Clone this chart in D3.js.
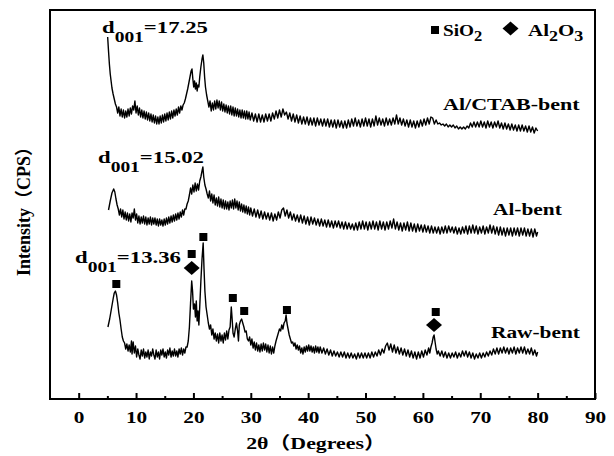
<!DOCTYPE html>
<html>
<head>
<meta charset="utf-8">
<script src="https://cdn.jsdelivr.net/npm/d3@7"></script>
<style>
  body { margin: 0; background: #fff; }
  svg text { font-family: "Liberation Serif", "Times New Roman", "Noto Sans CJK SC", serif; font-weight: bold; fill: #000; }
</style>
</head>
<body>
<div id="chart"></div>
<script>
// [2theta, intensity], curves already stacked
const rawBent = [
  [5.1,72],[5.4,80],[5.7,90],[6.0,100],[6.2,106],[6.4,108],[6.6,104],[6.8,96],[7.0,86],[7.2,79],[7.4,70],[7.6,62],[7.8,58],[8.0,56],[8.2,50],[8.4,55],[8.6,48],[8.8,54],[9.0,47],[9.2,58],[9.3,45],[9.5,57],[9.7,46],[9.9,53],
  [10.1,42],[10.3,50],[10.5,44],[10.7,40],[10.9,49],[11.1,43],[11.3,50],[11.5,41],[11.7,47],[11.9,42],[12.1,49],[12.3,40],[12.5,47],[12.7,43],[12.9,50],[13.1,44],[13.3,40],[13.5,49],[13.7,42],[13.9,47],[14.1,40],[14.3,49],[14.5,44],[14.7,50],[14.9,42],
  [15.1,47],[15.3,41],[15.5,49],[15.7,44],[15.9,51],[16.1,42],[16.3,48],[16.5,43],[16.7,50],[16.9,43],[17.1,48],[17.3,42],[17.5,50],[17.7,45],[17.9,51],[18.1,44],[18.3,50],[18.5,46],[18.7,52],[18.9,52],[19.1,58],[19.3,72],[19.5,96],[19.7,118],[19.85,108],
  [20.0,90],[20.2,95],[20.35,82],[20.5,98],[20.65,78],[20.8,88],[20.95,74],[21.1,92],[21.3,118],[21.5,140],[21.7,156],[21.85,130],[22.0,108],[22.2,92],[22.4,84],[22.6,76],[22.8,70],[23.0,74],[23.2,64],[23.4,70],[23.6,60],[23.8,66],[24.0,58],[24.2,65],[24.4,56],[24.6,66],[24.8,58],
  [25.0,64],[25.2,56],[25.4,66],[25.6,59],[25.8,68],[26.0,60],[26.2,69],[26.4,72],[26.6,92],[26.75,80],[26.9,66],[27.1,62],[27.3,70],[27.5,76],[27.7,68],[27.85,58],[28.0,74],[28.2,78],[28.4,80],[28.6,76],[28.8,72],[29.0,67],[29.2,68],[29.4,60],[29.6,58],[29.8,62],
  [30.0,54],[30.2,60],[30.4,51],[30.6,57],[30.8,49],[31.0,56],[31.2,48],[31.4,54],[31.6,47],[31.8,55],[32.0,48],[32.2,56],[32.4,49],[32.6,55],[32.8,47],[33.0,54],[33.2,46],[33.4,53],[33.6,45],[33.8,52],[34.0,46],[34.2,53],[34.4,58],[34.6,62],[34.8,66],
  [35.0,70],[35.2,68],[35.4,74],[35.6,70],[35.8,76],[36.0,78],[36.15,84],[36.3,76],[36.5,70],[36.7,64],[36.9,60],[37.1,56],[37.3,57],[37.5,53],[37.7,56],[37.9,50],[38.1,54],[38.3,49],[38.5,53],[38.7,46],[38.9,51],[39.1,45],[39.3,52],[39.5,47],[39.7,53],[39.9,48],
  [40.1,54],[40.3,48],[40.5,53],[40.7,47],[40.9,52],[41.1,46],[41.3,53],[41.5,47],[41.7,52],[41.9,46],[42.1,52],[42.4,46],[42.7,51],[43.0,45],[43.3,50],[43.6,44],[43.9,49],[44.2,43],[44.5,48],[44.8,43],
  [45.1,47],[45.4,42],[45.7,47],[46.0,42],[46.3,47],[46.6,41],[46.9,46],[47.2,41],[47.5,46],[47.8,41],[48.1,45],[48.4,40],[48.7,46],[49.0,41],[49.3,46],[49.6,41],[49.9,46],
  [50.2,41],[50.5,46],[50.8,41],[51.1,47],[51.4,42],[51.7,47],[52.0,43],[52.3,49],[52.6,44],[52.9,50],[53.2,46],[53.5,53],[53.8,56],[54.1,49],[54.4,55],[54.7,47],
  [55.0,54],[55.3,46],[55.6,52],[55.9,45],[56.2,51],[56.5,44],[56.8,50],[57.1,43],[57.4,49],[57.7,42],[58.0,48],[58.3,41],[58.6,47],[58.9,40],[59.2,47],[59.5,41],[59.8,48],
  [60.1,42],[60.4,49],[60.7,44],[61.0,51],[61.2,46],[61.4,52],[61.6,56],[61.8,62],[61.95,64],[62.1,58],[62.3,50],[62.5,45],[62.7,48],[63.0,43],[63.3,48],[63.6,42],[63.9,47],[64.2,41],[64.5,46],[64.8,41],
  [65.1,46],[65.4,42],[65.7,47],[66.0,41],[66.3,46],[66.6,42],[66.9,48],[67.2,43],[67.5,48],[67.8,42],[68.1,47],[68.4,41],[68.7,46],[69.0,40],[69.3,45],[69.6,41],[69.9,46],
  [70.2,41],[70.5,46],[70.8,42],[71.1,47],[71.4,43],[71.7,48],[72.0,44],[72.3,50],[72.6,45],[72.9,51],[73.2,45],[73.5,51],[73.8,46],[74.1,52],[74.4,46],[74.7,51],
  [75.0,45],[75.3,51],[75.6,46],[75.9,52],[76.2,45],[76.5,51],[76.8,46],[77.1,52],[77.4,46],[77.7,52],[78.0,45],[78.3,50],[78.6,45],[78.9,51],[79.2,44],[79.5,49],[79.8,43],[80.0,47]
];

const alBent = [
  [5.2,189],[5.5,198],[5.8,206],[6.1,210],[6.3,207],[6.5,200],[6.7,194],[6.9,190],[7.1,184],[7.3,190],[7.5,182],[7.7,189],[7.9,180],[8.1,187],[8.3,179],[8.5,186],[8.7,178],[8.9,185],[9.1,177],[9.3,186],[9.5,181],[9.7,190],[9.9,179],
  [10.1,185],[10.3,176],[10.5,183],[10.7,175],[10.9,182],[11.1,176],[11.3,183],[11.5,175],[11.7,182],[11.9,174],[12.1,181],[12.3,175],[12.5,182],[12.7,174],[12.9,181],[13.1,175],[13.3,181],[13.5,174],[13.7,180],[13.9,173],[14.1,180],[14.3,174],[14.5,179],[14.7,173],[14.9,180],
  [15.1,174],[15.3,181],[15.5,175],[15.7,182],[15.9,176],[16.1,183],[16.3,177],[16.5,184],[16.7,178],[16.9,185],[17.1,179],[17.3,186],[17.5,180],[17.7,187],[17.9,182],[18.1,189],[18.3,184],[18.5,190],[18.7,190],[18.9,195],[19.1,198],[19.3,204],[19.5,211],[19.7,205],[19.9,214],
  [20.1,207],[20.3,216],[20.5,208],[20.7,215],[20.9,209],[21.1,218],[21.3,222],[21.5,228],[21.65,232],[21.8,222],[22.0,214],[22.2,210],[22.4,205],[22.6,201],[22.8,208],[23.0,198],[23.2,205],[23.4,196],[23.6,204],[23.8,194],[24.0,201],[24.2,193],[24.4,202],[24.6,192],[24.8,200],
  [25.0,191],[25.2,199],[25.4,190],[25.6,198],[25.8,190],[26.0,197],[26.2,189],[26.4,198],[26.6,191],[26.8,199],[27.0,190],[27.2,200],[27.4,191],[27.6,198],[27.8,189],[28.0,197],[28.2,188],[28.4,195],[28.6,187],[28.8,194],[29.0,186],[29.2,193],[29.4,185],[29.6,192],[29.8,184],
  [30.0,191],[30.3,183],[30.6,190],[30.9,182],[31.2,189],[31.5,181],[31.8,188],[32.1,180],[32.4,187],[32.7,180],[33.0,186],[33.3,179],[33.6,186],[33.9,178],[34.2,185],[34.5,179],[34.8,187],
  [35.1,181],[35.4,189],[35.7,191],[36.0,183],[36.3,189],[36.6,181],[36.9,187],[37.2,179],[37.5,185],[37.8,178],[38.1,184],[38.4,177],[38.7,184],[39.0,176],[39.3,183],[39.6,175],[39.9,182],
  [40.2,174],[40.5,182],[40.8,175],[41.1,181],[41.4,174],[41.7,180],[42.0,173],[42.3,180],[42.6,173],[42.9,179],[43.2,172],[43.5,179],[43.8,172],[44.1,178],[44.4,171],[44.7,178],
  [45.0,172],[45.3,178],[45.6,171],[45.9,177],[46.2,170],[46.5,177],[46.8,170],[47.1,176],[47.4,170],[47.7,175],[48.0,169],[48.3,176],[48.6,169],[48.9,177],[49.2,170],[49.5,178],[49.8,170],
  [50.1,177],[50.4,169],[50.7,177],[51.0,170],[51.3,178],[51.6,170],[51.9,177],[52.2,169],[52.5,178],[52.8,170],[53.1,177],[53.4,169],[53.7,177],[54.0,170],[54.3,178],[54.6,171],[54.9,180],
  [55.2,170],[55.5,177],[55.8,169],[56.1,176],[56.4,168],[56.7,176],[57.0,169],[57.3,177],[57.6,168],[57.9,176],[58.2,168],[58.5,175],[58.8,167],[59.1,175],[59.4,168],[59.7,174],
  [60.0,167],[60.3,174],[60.6,167],[60.9,173],[61.2,166],[61.5,173],[61.8,166],[62.1,172],[62.4,166],[62.7,172],[63.0,165],[63.3,172],[63.6,166],[63.9,173],[64.2,166],[64.5,173],[64.8,167],
  [65.1,172],[65.4,166],[65.7,172],[66.0,165],[66.3,171],[66.6,165],[66.9,172],[67.2,166],[67.5,173],[67.8,165],[68.1,173],[68.4,166],[68.7,174],[69.0,166],[69.3,173],[69.6,165],[69.9,172],
  [70.2,166],[70.5,173],[70.8,165],[71.1,172],[71.4,166],[71.7,174],[72.0,166],[72.3,173],[72.6,165],[72.9,172],[73.2,164],[73.5,172],[73.8,164],[74.1,171],[74.4,163],[74.7,171],
  [75.0,164],[75.3,171],[75.6,163],[75.9,171],[76.2,164],[76.5,171],[76.8,163],[77.1,171],[77.4,164],[77.7,171],[78.0,163],[78.3,170],[78.6,163],[78.9,170],[79.2,162],[79.5,170],[79.8,163],[80.0,167]
];

const alCtabBent = [
  [5.05,362],[5.2,348],[5.35,335],[5.5,325],[5.65,318],[5.8,311],[6.0,305],[6.2,300],[6.4,295],[6.6,292],[6.8,286],[7.0,292],[7.2,283],[7.4,290],[7.6,282],[7.8,289],[8.0,281],[8.2,288],[8.4,282],[8.6,290],[8.8,283],[9.0,291],[9.2,285],[9.4,293],[9.6,289],[9.8,298],
  [10.0,286],[10.2,293],[10.4,284],[10.6,291],[10.8,282],[11.0,289],[11.2,281],[11.4,288],[11.6,280],[11.8,287],[12.0,279],[12.2,286],[12.4,278],[12.6,285],[12.8,277],[13.0,284],[13.2,276],[13.4,283],[13.6,275],[13.8,282],[14.0,275],[14.2,283],[14.4,276],[14.6,284],[14.8,277],
  [15.0,285],[15.2,278],[15.4,286],[15.6,279],[15.8,287],[16.0,280],[16.2,288],[16.4,281],[16.6,289],[16.8,283],[17.0,290],[17.2,284],[17.4,292],[17.6,286],[17.8,293],[18.0,289],[18.2,294],[18.4,296],[18.6,300],[18.8,305],[19.0,310],[19.2,316],[19.4,322],[19.6,328],[19.75,330],[19.9,320],
  [20.05,312],[20.2,318],[20.35,310],[20.5,316],[20.65,308],[20.8,314],[20.95,312],[21.1,322],[21.3,332],[21.5,340],[21.65,344],[21.8,336],[21.95,322],[22.1,312],[22.3,304],[22.5,298],[22.7,292],[22.9,298],[23.1,288],[23.3,296],[23.5,289],[23.7,298],[23.9,290],[24.1,299],[24.3,291],[24.5,298],[24.7,289],[24.9,297],
  [25.1,288],[25.3,295],[25.5,287],[25.7,294],[25.9,286],[26.1,293],[26.3,285],[26.5,293],[26.7,284],[26.9,292],[27.1,283],[27.3,291],[27.5,283],[27.7,290],[27.9,282],[28.1,289],[28.3,281],[28.5,289],[28.7,281],[28.9,288],[29.1,280],[29.3,288],[29.5,280],[29.7,287],[29.9,279],
  [30.2,286],[30.5,278],[30.8,285],[31.1,277],[31.4,285],[31.7,277],[32.0,284],[32.3,277],[32.6,285],[32.9,278],[33.2,285],[33.5,278],[33.8,286],[34.1,280],[34.4,288],[34.7,281],
  [35.0,289],[35.3,282],[35.6,290],[35.9,284],[36.2,287],[36.5,280],[36.8,286],[37.1,278],[37.4,285],[37.7,277],[38.0,284],[38.3,276],[38.6,283],[38.9,275],[39.2,282],[39.5,275],[39.8,282],
  [40.1,274],[40.4,281],[40.7,274],[41.0,281],[41.3,273],[41.6,281],[41.9,274],[42.2,280],[42.5,273],[42.8,280],[43.1,273],[43.4,280],[43.7,272],[44.0,279],[44.3,272],[44.6,279],[44.9,271],
  [45.2,279],[45.5,272],[45.8,278],[46.1,271],[46.4,278],[46.7,271],[47.0,279],[47.3,272],[47.6,280],[47.9,273],[48.2,281],[48.5,273],[48.8,279],[49.1,272],[49.4,280],[49.7,273],
  [50.0,281],[50.3,273],[50.6,280],[50.9,272],[51.2,280],[51.5,273],[51.8,283],[52.1,274],[52.4,281],[52.7,274],[53.0,280],[53.3,273],[53.6,281],[53.9,274],[54.2,280],[54.5,274],[54.8,281],
  [55.1,275],[55.4,284],[55.7,275],[56.0,281],[56.3,274],[56.6,280],[56.9,273],[57.2,279],[57.5,272],[57.8,279],[58.1,272],[58.4,278],[58.7,271],[59.0,278],[59.3,272],[59.6,279],[59.9,273],
  [60.2,280],[60.5,274],[60.8,281],[61.1,275],[61.4,282],[61.7,281],[62.0,275],[62.3,279],[62.6,275],[62.9,276],[63.2,274],[63.5,275],[63.8,273],[64.1,275],[64.4,272],[64.7,274],
  [65.0,272],[65.3,274],[65.6,271],[65.9,273],[66.2,270],[66.5,272],[66.8,270],[67.1,272],[67.4,270],[67.7,273],[68.0,271],[68.3,276],[68.6,272],[68.9,277],[69.2,272],[69.5,277],[69.8,272],
  [70.1,278],[70.4,272],[70.7,277],[71.0,271],[71.3,278],[71.6,272],[71.9,277],[72.2,271],[72.5,277],[72.8,272],[73.1,278],[73.4,271],[73.7,276],[74.0,270],[74.3,276],[74.6,270],[74.9,275],
  [75.2,269],[75.5,275],[75.8,269],[76.1,274],[76.4,268],[76.7,274],[77.0,268],[77.3,274],[77.6,268],[77.9,273],[78.2,267],[78.5,273],[78.8,267],[79.1,272],[79.4,266],[79.7,271],[80.0,268]
];

// phase marks on the Raw-bent pattern: [2theta, height]
const sio2Marks = [[6.56, 115], [19.7, 145], [21.73, 162], [26.87, 101], [28.85, 88], [36.3, 89], [62.24, 87]];
const al2o3Marks = [[19.7, 131], [61.94, 74]];

const majorTicks = [0, 10, 20, 30, 40, 50, 60, 70, 80, 90];
const minorTicks = [5, 15, 25, 35, 45, 55, 65, 75, 85];

const w = 614;
const h = 456;
const plotLeft = 50;
const plotRight = 595;
const plotTop = 10;
const plotBottom = 399;
const stretch = 1.3;

const svg = d3
  .select("#chart")
  .append("svg")
  .attr("width", w)
  .attr("height", h);

const xScale = d3.scaleLinear().domain([-5, 90]).range([plotLeft, plotRight]);
const yScale = d3.scaleLinear().domain([0, 390]).range([plotBottom, plotTop - 1]);

const line = d3
  .line()
  .x((d) => xScale(d[0]))
  .y((d) => yScale(d[1]));

[rawBent, alBent, alCtabBent].forEach((series) => {
  svg
    .append("path")
    .datum(series)
    .attr("d", line)
    .attr("fill", "none")
    .attr("stroke", "#000")
    .attr("stroke-width", 1.4)
    .attr("stroke-linejoin", "round");
});

svg
  .selectAll(".sq")
  .data(sio2Marks)
  .enter()
  .append("rect")
  .attr("class", "sq")
  .attr("x", (d) => xScale(d[0]) - 4)
  .attr("y", (d) => yScale(d[1]) - 4)
  .attr("width", 8)
  .attr("height", 8)
  .attr("fill", "#000");

const diamond = (cx, cy) =>
  `M${cx},${cy - 7}L${cx + 8},${cy}L${cx},${cy + 7}L${cx - 8},${cy}Z`;

svg
  .selectAll(".dm")
  .data(al2o3Marks)
  .enter()
  .append("path")
  .attr("class", "dm")
  .attr("d", (d) => diamond(xScale(d[0]), yScale(d[1])))
  .attr("fill", "#000");

// axes: major and minor ticks pointing into the plot
const xAxis = d3
  .axisBottom(xScale)
  .tickValues(majorTicks)
  .tickSizeInner(-6)
  .tickSizeOuter(0)
  .tickPadding(12);
const gx = svg
  .append("g")
  .attr("transform", `translate(0,${plotBottom})`)
  .call(xAxis);
gx.select(".domain").remove();
gx.selectAll("line").attr("stroke-width", 2);
gx.attr("font-family", null).attr("font-size", null);
gx.selectAll("text")
  .attr("font-size", 17)
  .attr("transform", "scale(1.25,1)");

const xMinor = d3
  .axisBottom(xScale)
  .tickValues(minorTicks)
  .tickSizeInner(-3)
  .tickSizeOuter(0)
  .tickFormat("");
const gm = svg
  .append("g")
  .attr("transform", `translate(0,${plotBottom})`)
  .call(xMinor);
gm.select(".domain").remove();
gm.selectAll("line").attr("stroke-width", 2);

svg
  .append("rect")
  .attr("x", plotLeft)
  .attr("y", plotTop)
  .attr("width", plotRight - plotLeft)
  .attr("height", plotBottom - plotTop)
  .attr("fill", "none")
  .attr("stroke", "#000")
  .attr("stroke-width", 2);

// text helper: parts are [string, dy, size]
const label = (x, y, parts, anchor = "start", sx = stretch) => {
  const t = svg
    .append("text")
    .attr("transform", `translate(${x},${y}) scale(${sx},1)`)
    .attr("text-anchor", anchor);
  parts.forEach(([s, dy, size]) => {
    t.append("tspan").attr("dy", dy).attr("font-size", size).text(s);
  });
  return t;
};

label(102, 33, [["d", 0, 17.5], ["001", 9, 15], ["=17.25", -9, 17.5]]);
label(98, 163, [["d", 0, 17.5], ["001", 9, 15], ["=15.02", -9, 17.5]]);
label(75, 263, [["d", 0, 17.5], ["001", 9, 15], ["=13.36", -9, 17.5]]);

label(443, 110, [["Al/CTAB-bent", 0, 17.5]], "start", 1.26);
label(493, 215, [["Al-bent", 0, 17.5]], "start", 1.22);
label(491, 338, [["Raw-bent", 0, 17.5]], "start", 1.22);

// legend
svg
  .append("rect")
  .attr("x", 431)
  .attr("y", 26)
  .attr("width", 8)
  .attr("height", 8)
  .attr("fill", "#000");
label(443, 36, [["SiO", 0, 17.5], ["2", 5, 15]], "start", 1.1);
svg.append("path").attr("d", diamond(510.5, 28.5)).attr("fill", "#000");
label(528, 36, [["Al", 0, 17.5], ["2", 5, 15], ["O", -5, 17.5], ["3", 5, 15]], "start", 1.2);

label(316, 449, [["2θ（Degrees）", 0, 17.5]], "middle", 1.25);

svg
  .append("text")
  .attr("transform", "translate(30,207) rotate(-90)")
  .attr("text-anchor", "middle")
  .attr("font-size", 18)
  .text("Intensity（CPS）");
</script>
</body>
</html>
